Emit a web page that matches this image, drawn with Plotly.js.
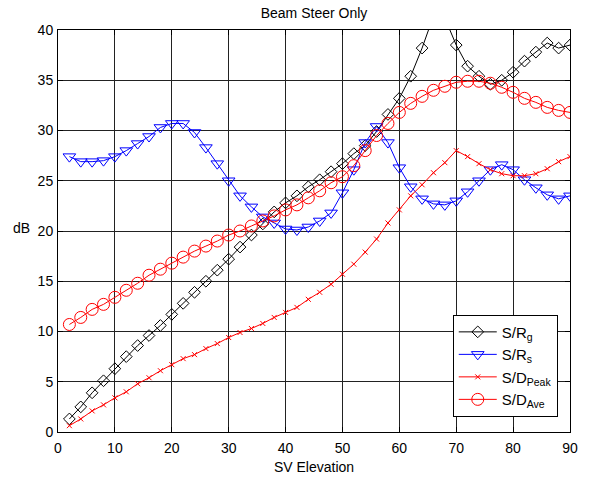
<!DOCTYPE html>
<html>
<head>
<meta charset="utf-8">
<script src="https://cdn.plot.ly/plotly-3.0.1.min.js"></script>
<style>html,body{margin:0;padding:0;background:#fff;}#chart{width:589px;height:481px;}</style>
</head>
<body>
<div id="chart"></div>
<script>
const elevation = [2,4,6,8,10,12,14,16,18,20,22,24,26,28,30,32,34,36,38,40,42,44,46,48,50,52,54,56,58,60,62,64,66,68,70,72,74,76,78,80,82,84,86,88,90];
const srg = [1.3,2.5,3.9,5.1,6.3,7.5,8.6,9.6,10.6,11.7,12.8,13.9,15.0,16.1,17.2,18.4,19.6,20.7,21.9,22.8,23.5,24.4,25.1,25.9,26.7,27.7,28.5,29.9,31.6,33.2,35.4,38.2,41.4,41.2,38.5,36.4,35.4,34.6,35.0,35.8,36.9,37.8,38.7,38.2,38.5];
const srs = [27.4,26.9,26.9,27.0,27.4,28.0,28.7,29.4,30.3,30.7,30.7,29.8,28.3,26.7,25.0,23.5,22.4,21.4,20.8,20.2,20.1,20.4,21.0,21.8,23.8,26.1,28.8,30.4,28.8,26.3,24.4,23.2,22.7,22.6,23.0,23.9,25.0,26.1,26.6,26.1,25.1,24.3,23.6,23.2,23.5];
const sdPeak = [0.63,1.3,2.1,2.7,3.4,4.0,4.8,5.4,6.1,6.7,7.3,7.7,8.3,8.8,9.4,9.9,10.3,10.8,11.4,11.9,12.4,13.2,13.9,14.7,15.7,16.7,17.9,19.2,20.8,22.1,23.5,24.6,25.8,26.8,28.0,27.4,26.7,26.1,25.7,25.5,25.5,25.7,26.2,26.9,27.4];
const sdAve = [10.7,11.4,12.2,12.7,13.4,14.1,14.8,15.6,16.2,16.8,17.4,18.0,18.5,19.0,19.6,20.0,20.5,21.0,21.5,22.1,22.6,23.3,24.0,24.8,25.4,26.5,28.0,29.5,30.7,31.8,32.7,33.4,34.0,34.4,34.8,34.9,34.9,34.7,34.3,33.8,33.2,32.8,32.3,32.0,31.8];
const seriesNames = ['S/R<sub>g</sub>','S/R<sub>s</sub>','S/D<sub>Peak</sub>','S/D<sub>Ave</sub>'];
const xTicks = [0,10,20,30,40,50,60,70,80,90];
const yTicks = [0,5,10,15,20,25,30,35,40];

const font = 'Liberation Sans, Arial, sans-serif';
const traces = [
  {x: elevation, y: srg, name: seriesNames[0], mode: 'lines+markers',
   line: {color: '#000', width: 1}, marker: {symbol: 'diamond-open', size: 9, color: '#000', line: {width: 1}}},
  {x: elevation, y: srs, name: seriesNames[1], mode: 'lines+markers',
   line: {color: '#0000ff', width: 1}, marker: {symbol: 'triangle-down-open', size: 11, color: '#0000ff', line: {width: 1}}},
  {x: elevation, y: sdPeak, name: seriesNames[2], mode: 'lines+markers',
   line: {color: '#ff0000', width: 1}, marker: {symbol: 'x-thin-open', size: 5, color: '#ff0000', line: {width: 1, color: '#ff0000'}}},
  {x: elevation, y: sdAve, name: seriesNames[3], mode: 'lines+markers',
   line: {color: '#ff0000', width: 1}, marker: {symbol: 'circle-open', size: 12, color: '#ff0000', line: {width: 1}}}
];

const axisCommon = {
  showline: true, mirror: 'ticks', linecolor: '#000', linewidth: 1,
  showgrid: true, gridcolor: '#222', gridwidth: 1, zeroline: false,
  ticks: 'inside', ticklen: 5, tickcolor: '#000',
  tickfont: {family: font, size: 14, color: '#000'}
};

const layout = {
  width: 589, height: 481,
  margin: {l: 58, r: 19, t: 30, b: 49},
  paper_bgcolor: '#fff', plot_bgcolor: '#fff',
  font: {family: font, color: '#000'},
  title: {text: 'Beam Steer Only', font: {family: font, size: 14, color: '#000'},
          x: 0.5, xref: 'paper', y: 0.972, yref: 'container', yanchor: 'middle'},
  xaxis: Object.assign({}, axisCommon, {range: [0, 90], tickvals: xTicks, ticklabelstandoff: 3,
          title: {text: 'SV Elevation', font: {family: font, size: 14, color: '#000'}, standoff: 7}}),
  yaxis: Object.assign({}, axisCommon, {range: [0, 40], tickvals: yTicks, ticklabelstandoff: 1}),
  showlegend: true,
  legend: {x: 0.771, y: 0.292, xanchor: 'left', yanchor: 'top', bgcolor: '#fff',
           bordercolor: '#000', borderwidth: 1, font: {family: font, size: 15, color: '#000'},
           tracegroupgap: 0, itemwidth: 38},
  annotations: [{text: 'dB', xref: 'paper', yref: 'paper', x: -0.072, y: 0.508,
                 xanchor: 'center', yanchor: 'middle', showarrow: false,
                 font: {family: font, size: 14, color: '#000'}}]
};

Plotly.newPlot('chart', traces, layout, {staticPlot: true, displayModeBar: false});
</script>
</body>
</html>
